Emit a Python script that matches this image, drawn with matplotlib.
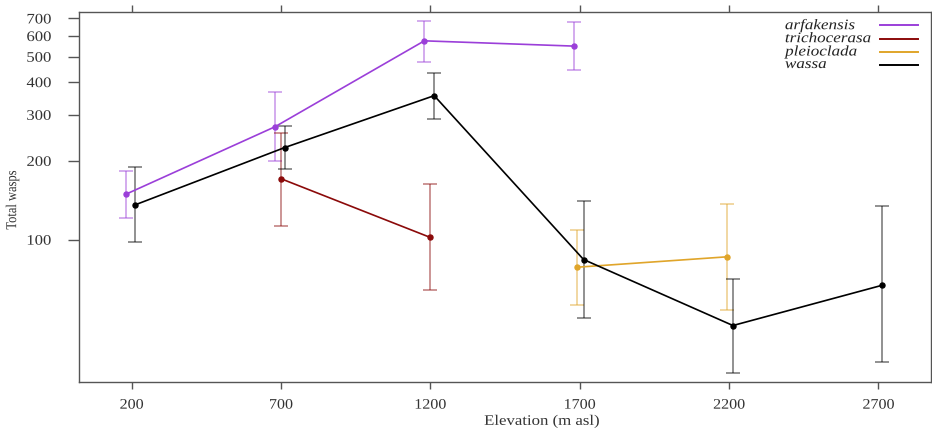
import matplotlib
matplotlib.use("Agg")
import matplotlib.pyplot as plt
from matplotlib.ticker import FixedLocator, NullLocator, FixedFormatter
from matplotlib.lines import Line2D
from matplotlib.patheffects import AbstractPathEffect
from matplotlib.transforms import Affine2D

# Elevation classes (m asl)
elevation_ticks = [200, 700, 1200, 1700, 2200, 2700]

# Mean total wasps with lower / upper confidence limits per species
arfakensis_elev = [200, 700, 1200, 1700]
arfakensis_mean = [149, 270, 575, 549]
arfakensis_lo = [121, 200, 478, 443]
arfakensis_hi = [183, 366, 682, 680]

trichocerasa_elev = [700, 1200]
trichocerasa_mean = [171, 102]
trichocerasa_lo = [113, 64]
trichocerasa_hi = [255, 163]

pleioclada_elev = [1700, 2200]
pleioclada_mean = [78.5, 86]
pleioclada_lo = [56.5, 54]
pleioclada_hi = [108.5, 137]

wassa_elev = [200, 700, 1200, 1700, 2200, 2700]
wassa_mean = [136, 225, 355, 84, 47, 67]
wassa_lo = [98, 186, 289, 50, 31, 34]
wassa_hi = [189, 271, 435, 141, 71, 134.5]

y_ticks = [100, 200, 300, 400, 500, 600, 700]

series = [
    ("arfakensis", arfakensis_elev, arfakensis_mean, arfakensis_lo, arfakensis_hi),
    ("trichocerasa", trichocerasa_elev, trichocerasa_mean, trichocerasa_lo, trichocerasa_hi),
    ("pleioclada", pleioclada_elev, pleioclada_mean, pleioclada_lo, pleioclada_hi),
    ("wassa", wassa_elev, wassa_mean, wassa_lo, wassa_hi),
]

colors = {
    "arfakensis": "#9b3fd9",
    "trichocerasa": "#8b0a0a",
    "pleioclada": "#e0a52a",
    "wassa": "#000000",
}
# horizontal dodge so overlapping error bars stay readable
dodge = {"arfakensis": -20, "trichocerasa": 0, "pleioclada": -8, "wassa": 13}


class WideText(AbstractPathEffect):
    """Stretch glyphs horizontally (in display space) about a chosen edge."""

    def __init__(self, sx=1.15, anchor="center"):
        super().__init__()
        self.sx = sx
        self.anchor = anchor

    def draw_path(self, renderer, gc, tpath, affine, rgbFace=None):
        bb = tpath.get_extents(affine)
        if self.anchor == "left":
            cx = bb.x0
        elif self.anchor == "right":
            cx = bb.x1
        else:
            cx = 0.5 * (bb.x0 + bb.x1)
        aff = affine + Affine2D().translate(-cx, 0).scale(self.sx, 1).translate(cx, 0)
        renderer.draw_path(gc, tpath, aff, rgbFace)


plt.rcParams["font.family"] = ["Liberation Serif", "DejaVu Serif"]

W, H = 932, 430
fig = plt.figure(figsize=(W / 100, H / 100), dpi=100)
ax = fig.add_axes([79 / W, 48 / H, 852 / W, 370 / H])

for name, xs, ys, lo, hi in series:
    c = colors[name]
    xd = [x + dodge[name] for x in xs]
    yerr = [[m - l for m, l in zip(ys, lo)], [h - m for m, h in zip(ys, hi)]]
    ax.errorbar(xd, ys, yerr=yerr, fmt="none", ecolor=c, alpha=0.55,
                elinewidth=1.1, capsize=4.7, capthick=1.1, zorder=2)
    ax.plot(xd, ys, color=c, lw=1.2, marker="o", ms=3.6, mfc=c, mec=c,
            mew=1.0, zorder=3)

ax.set_yscale("log")
ax.set_ylim(28.6, 741)
ax.set_xlim(24, 2876)

ax.yaxis.set_major_locator(FixedLocator(y_ticks))
ax.yaxis.set_major_formatter(FixedFormatter([str(t) for t in y_ticks]))
ax.yaxis.set_minor_locator(NullLocator())
ax.xaxis.set_major_locator(FixedLocator(elevation_ticks))
ax.xaxis.set_minor_locator(NullLocator())

ax.tick_params(axis="y", which="major", length=8, width=1.0, color="#555555",
               labelsize=10.5, labelcolor="#333333", pad=12, left=True, right=False)
ax.tick_params(axis="x", which="major", length=5, width=1.0, color="#555555",
               labelsize=10.5, labelcolor="#333333", pad=7, top=True, bottom=True,
               labeltop=False)
for sp in ax.spines.values():
    sp.set_color("#555555")
    sp.set_linewidth(1.0)

for lbl in ax.get_yticklabels():
    lbl.set_path_effects([WideText(1.14, "right")])
for lbl in ax.get_xticklabels():
    lbl.set_path_effects([WideText(1.1, "center")])

xl = ax.set_xlabel("Elevation (m asl)", fontsize=10.5, color="#333333")
xl.set_path_effects([WideText(1.15, "center")])
ax.xaxis.set_label_coords(0.543, -0.088)
yl = ax.set_ylabel("Total wasps", fontsize=9, color="#333333")
yl.set_path_effects([WideText(1.2, "center")])
ax.yaxis.set_label_coords(-0.071, 0.492)

# legend: italic names followed by a line sample, drawn in axes fraction
leg_rows_y = [25.3, 38.7, 52.0, 64.5]
for (name, *_), yp in zip(series, leg_rows_y):
    yf = (382 - yp) / 370
    t = ax.text((785 - 79) / 852, yf, name, transform=ax.transAxes, fontsize=10.5,
                style="italic", color="#222222", ha="left", va="center")
    t.set_path_effects([WideText(1.17, "left")])
    ax.add_line(Line2D([(880 - 79) / 852, (918 - 79) / 852], [yf, yf],
                       transform=ax.transAxes, color=colors[name], lw=1.4))

fig.savefig("out.png", dpi=100)
